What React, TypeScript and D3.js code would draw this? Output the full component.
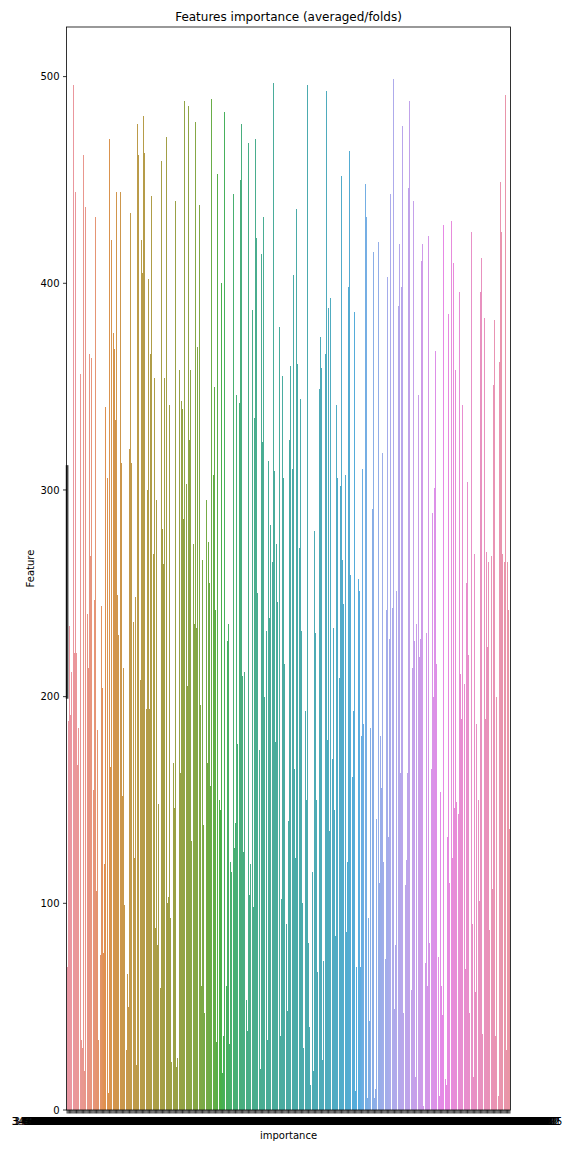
import * as d3 from "d3";

// mean "Feature" per importance category, read left to right off the plot
const featureMean = [
  69, 188, 234, 191, 212, 496, 221, 444, 221, 167, 185, 356, 34, 30, 462, 19, 437, 240, 214, 366,
  268, 364, 155, 247, 432, 106, 184, 34, 75, 244, 204, 76, 119, 340, 306, 8, 470, 166, 421, 376,
  368, 334, 444, 249, 230, 444, 313, 152, 214, 99, 29, 66, 50, 320, 434, 313, 236, 122, 248, 22,
  477, 462,
  208, 421, 405, 481, 463, 194, 300, 402, 194, 366, 442, 269, 354, 88, 295, 80, 148, 59, 459, 281,
  264, 354, 471, 100, 103, 341, 93, 23, 168, 146, 440, 21, 25, 358, 163, 343, 339, 286, 488, 303,
  205, 486, 324, 358, 130, 274, 235, 478, 233, 369, 438, 196, 60, 266, 138, 47, 295, 168, 275, 255,
  157, 489,
  307, 350, 242, 33, 453, 150, 145, 400, 18, 36, 483, 60, 227, 235, 32, 120, 115, 443, 127, 139,
  346, 177, 342, 450, 477, 210, 125, 212, 53, 38, 468, 104, 119, 387, 98, 335, 470, 422, 250, 174,
  20, 414, 323, 432, 200, 232, 34, 314, 238, 283, 265, 497, 309, 178, 274, 246, 379, 36, 102, 355,
  306, 216, 90, 48,
  140, 324, 360, 310, 404, 165, 122, 436, 361, 272, 344, 232, 100, 30, 193, 150, 496, 81, 40, 12,
  115, 19, 280, 231, 150, 67, 349, 374, 359, 24, 72, 366, 493, 179, 388, 135, 393, 170, 233, 145,
  84, 341, 306, 209, 302, 452, 266, 245, 307, 86, 120, 398, 464, 259, 161, 193, 386, 9, 69, 257,
  251, 69, 181,
  310, 187, 448, 432, 6, 93, 43, 185, 291, 415, 6, 10, 141, 420, 110, 181, 156, 318, 120, 73,
  242, 403, 132, 228, 443, 243, 499, 49, 80, 251, 389, 419, 163, 398, 476, 47, 109, 121, 163, 446,
  488, 58, 214, 440, 227, 16, 235, 346, 219, 228, 411, 419, 2, 71, 231, 60, 423, 81, 165, 289,
  200, 301, 367,
  216, 74, 7, 154, 60, 46, 428, 15, 12, 132, 385, 110, 430, 122, 410, 146, 358, 149, 143, 396,
  211, 189, 341, 206, 68, 255, 304, 220, 47, 425, 90, 16, 269, 57, 187, 150, 101, 396, 412, 37,
  383, 189, 270, 224, 265, 87, 268, 107, 351, 382, 36, 200, 7, 362, 449, 425, 269, 265, 491, 29,
  265, 242, 136,
];

// x categories (importance averaged over folds), ascending; labels overlap into a solid band
const importance = [
  3.4000000000000004, 3.6000000000000005, 3.8000000000000003, 4.000000000000001, 4.200000000000001, 4.400000000000001, 4.600000000000001, 4.800000000000001, 5.000000000000001, 5.200000000000001,
  5.400000000000001, 5.600000000000001, 5.800000000000001, 6.000000000000001, 6.200000000000001, 6.400000000000001, 6.600000000000001, 6.800000000000001, 7.000000000000001, 7.200000000000001,
  7.400000000000001, 7.600000000000001, 7.800000000000001, 8.000000000000002, 8.200000000000001, 8.400000000000002, 8.600000000000001, 8.800000000000002, 9.000000000000002, 9.200000000000001,
  9.400000000000002, 9.600000000000001, 9.800000000000002, 10.000000000000002, 10.200000000000001, 10.400000000000002, 10.600000000000001, 10.800000000000002, 11.000000000000002, 11.200000000000001,
  11.400000000000002, 11.600000000000001, 11.800000000000002, 12.000000000000002, 12.200000000000001, 12.400000000000002, 12.600000000000001, 12.800000000000002, 13.000000000000002, 13.200000000000001,
  13.400000000000002, 13.600000000000001, 13.800000000000002, 14.000000000000002, 14.200000000000001, 14.400000000000002, 14.600000000000001, 14.800000000000002, 15.000000000000002, 15.200000000000001,
  15.400000000000002, 15.600000000000001, 15.800000000000002, 16.000000000000004, 16.200000000000003, 16.400000000000002, 16.600000000000005, 16.800000000000004, 17.000000000000004, 17.200000000000003,
  17.400000000000002, 17.600000000000005, 17.800000000000004, 18.000000000000004, 18.200000000000003, 18.400000000000002, 18.600000000000005, 18.800000000000004, 19.000000000000004, 19.200000000000003,
  19.400000000000002, 19.600000000000005, 19.800000000000004, 20.000000000000004, 20.200000000000003, 20.400000000000002, 20.600000000000005, 20.800000000000004, 21.000000000000004, 21.200000000000003,
  21.400000000000002, 21.600000000000005, 21.800000000000004, 22.000000000000004, 22.200000000000003, 22.400000000000002, 22.600000000000005, 22.800000000000004, 23.000000000000004, 23.200000000000003,
  23.400000000000002, 23.600000000000005, 23.800000000000004, 24.000000000000004, 24.200000000000003, 24.400000000000002, 24.600000000000005, 24.800000000000004, 25.000000000000004, 25.200000000000003,
  25.400000000000002, 25.600000000000005, 25.800000000000004, 26.000000000000004, 26.200000000000003, 26.400000000000002, 26.600000000000005, 26.800000000000004, 27.000000000000004, 27.200000000000003,
  27.400000000000002, 27.600000000000005, 27.800000000000004, 28.000000000000004, 28.200000000000003, 28.400000000000002, 28.600000000000005, 28.800000000000004, 29.000000000000004, 29.200000000000003,
  29.400000000000002, 29.600000000000005, 29.800000000000004, 30.000000000000004, 30.200000000000003, 30.400000000000002, 30.600000000000005, 30.800000000000004, 31.000000000000004, 31.200000000000003,
  31.400000000000002, 31.600000000000005, 31.800000000000004, 32.00000000000001, 32.20000000000001, 32.40000000000001, 32.60000000000001, 32.80000000000001, 33.00000000000001, 33.20000000000001,
  33.40000000000001, 33.60000000000001, 33.80000000000001, 34.00000000000001, 34.20000000000001, 34.40000000000001, 34.60000000000001, 34.80000000000001, 35.00000000000001, 35.20000000000001,
  35.40000000000001, 35.60000000000001, 35.80000000000001, 36.00000000000001, 36.20000000000001, 36.40000000000001, 36.60000000000001, 36.80000000000001, 37.00000000000001, 37.20000000000001,
  37.40000000000001, 37.60000000000001, 37.80000000000001, 38.00000000000001, 38.20000000000001, 38.40000000000001, 38.60000000000001, 38.80000000000001, 39.00000000000001, 39.20000000000001,
  39.40000000000001, 39.60000000000001, 39.80000000000001, 40.00000000000001, 40.40000000000001, 40.60000000000001, 41.00000000000001, 41.20000000000001, 41.40000000000001, 41.80000000000001,
  42.00000000000001, 42.40000000000001, 42.60000000000001, 42.80000000000001, 43.20000000000001, 43.40000000000001, 43.80000000000001, 44.00000000000001, 44.20000000000001, 44.60000000000001,
  44.80000000000001, 45.20000000000001, 45.40000000000001, 45.60000000000001, 46.00000000000001, 46.20000000000001, 46.60000000000001, 46.80000000000001, 47.00000000000001, 47.40000000000001,
  47.60000000000001, 48.00000000000001, 48.20000000000001, 48.40000000000001, 48.80000000000001, 49.00000000000001, 49.40000000000001, 49.60000000000001, 49.80000000000001, 50.20000000000001,
  50.40000000000001, 50.80000000000001, 51.00000000000001, 51.20000000000001, 51.60000000000001, 51.80000000000001, 52.20000000000001, 52.40000000000001, 52.60000000000001, 53.00000000000001,
  53.20000000000001, 53.60000000000001, 53.80000000000001, 54.00000000000001, 54.40000000000001, 54.60000000000001, 55.00000000000001, 55.20000000000001, 55.40000000000001, 55.80000000000001,
  56.00000000000001, 56.40000000000001, 56.60000000000001, 56.80000000000001, 57.20000000000001, 57.40000000000001, 57.80000000000001, 58.00000000000001, 58.20000000000001, 58.60000000000001,
  58.80000000000001, 59.20000000000001, 59.40000000000001, 59.60000000000001, 60.00000000000001, 60.20000000000001, 60.60000000000001, 60.80000000000001, 61.00000000000001, 61.40000000000001,
  61.60000000000001, 62.00000000000001, 62.20000000000001, 62.40000000000001, 62.80000000000001, 63.00000000000001, 63.40000000000001, 63.60000000000001, 63.80000000000001, 64.20000000000002,
  64.40000000000002, 64.80000000000001, 65.00000000000001, 65.20000000000002, 65.60000000000001, 65.80000000000001, 66.20000000000002, 66.40000000000002, 66.60000000000001, 67.00000000000001,
  67.20000000000002, 67.60000000000001, 67.80000000000001, 68.00000000000001, 68.40000000000002, 68.60000000000001, 69.00000000000001, 69.20000000000002, 69.40000000000002, 69.80000000000001,
  70.00000000000001, 70.40000000000002, 70.60000000000001, 70.80000000000001, 71.20000000000002, 71.40000000000002, 71.80000000000001, 72.00000000000001, 72.20000000000002, 72.60000000000001,
  72.80000000000001, 73.20000000000002, 73.40000000000002, 73.60000000000001, 74.00000000000001, 74.20000000000002, 74.60000000000001, 74.80000000000001, 75.00000000000001, 75.40000000000002,
  75.60000000000001, 76.00000000000001, 76.20000000000002, 76.40000000000002, 76.80000000000001, 77.00000000000001, 77.40000000000002, 77.60000000000001, 77.80000000000001, 78.20000000000002,
  78.40000000000002, 78.80000000000001, 79.00000000000001, 79.20000000000002, 79.60000000000001, 79.80000000000001, 80.20000000000002, 80.40000000000002, 80.60000000000001, 81.00000000000001,
  81.20000000000002, 81.60000000000001, 81.80000000000001, 82.00000000000001, 82.40000000000002, 82.60000000000001, 83.00000000000001, 83.20000000000002, 83.40000000000002, 83.80000000000001,
  84.00000000000001, 84.40000000000002, 84.60000000000001, 84.80000000000001, 85.20000000000002, 85.40000000000002, 85.80000000000001, 86.00000000000001, 86.20000000000002, 86.60000000000001,
  86.80000000000001, 87.20000000000002, 87.40000000000002, 87.60000000000001, 88.00000000000001, 88.20000000000002, 88.60000000000001, 88.80000000000001, 89.00000000000001, 89.40000000000002,
  89.60000000000001, 90.00000000000001, 90.20000000000002, 90.60000000000001, 91.00000000000001, 91.40000000000002, 91.80000000000001, 92.20000000000002, 92.60000000000001, 93.00000000000001,
  93.40000000000002, 93.80000000000001, 94.40000000000002, 94.80000000000001, 95.40000000000002, 95.80000000000001, 96.20000000000005,
];

// only the first category has several rows -> confidence interval drawn
const firstBarCi = [199, 312];
const yTicks = [0, 100, 200, 300, 400, 500];

const W = 576;
const H = 1152;
const plot = { left: 66.5, right: 510.5, top: 27, bottom: 1110 };
const FONT = "DejaVu Sans, sans-serif";

// seaborn husl palette (l=.7) + desaturate(.75)
const M = [
  [3.2406, -1.5372, -0.4986],
  [-0.9689, 1.8758, 0.0415],
  [0.0557, -0.204, 1.057],
];

function maxChroma(L: number, Hdeg: number) {
  const hrad = (Hdeg * Math.PI) / 180;
  const sinH = Math.sin(hrad), cosH = Math.cos(hrad);
  const sub1 = Math.pow(L + 16, 3) / 1560896.0;
  const sub2 = sub1 > 0.008856 ? sub1 : L / 903.3;
  let result = Infinity;
  for (const [m1, m2, m3] of M) {
    const top = (0.99915 * m1 + 1.05122 * m2 + 1.1446 * m3) * sub2;
    const rbottom = 0.8633 * m3 - 0.17266 * m2;
    const lbottom = 0.12949 * m3 - 0.38848 * m1;
    const bottom = (rbottom * sinH + lbottom * cosH) * sub2;
    for (const t of [0, 1]) {
      const C = (L * (top - 1.05122 * t)) / (bottom + 0.17266 * sinH * t);
      if (C > 0 && C < result) result = C;
    }
  }
  return result;
}

function huslToRgb(h: number, s: number, l: number) {
  const C = (maxChroma(l, h) / 100) * s;
  const hrad = (h * Math.PI) / 180;
  const U = Math.cos(hrad) * C, V = Math.sin(hrad) * C;
  const t = (l + 16) / 116;
  const Y = t ** 3 > 0.008856 ? t ** 3 : (116 * t - 16) / 903.3;
  const varU = U / (13 * l) + 0.19784;
  const varV = V / (13 * l) + 0.46834;
  const X = -(9 * Y * varU) / ((varU - 4) * varV - varU * varV);
  const Z = (9 * Y - 15 * varV * Y - varV * X) / (3 * varV);
  return M.map(r => {
    const c = r[0] * X + r[1] * Y + r[2] * Z;
    const g = c <= 0.0031308 ? 12.92 * c : 1.055 * Math.pow(c, 1 / 2.4) - 0.055;
    return Math.min(1, Math.max(0, g));
  });
}

function huslPalette(n: number) {
  return d3.range(n).map(i => {
    const hue = ((i / n + 0.01) % 1) * 359;
    const [r, g, b] = huslToRgb(hue, 0.9 * 99, 0.7 * 99);
    const c = d3.hsl(d3.rgb(r * 255, g * 255, b * 255));
    c.s *= 0.75;
    return c.formatHex();
  });
}

export default function App() {
  const idx = featureMean.map((_, i) => i);
  const x = d3.scaleBand<number>().domain(idx).range([plot.left, plot.right]).paddingInner(0.2).paddingOuter(0.1);
  const y = d3.scaleLinear().domain([0, 524]).range([plot.bottom, plot.top]);
  const colors = huslPalette(featureMean.length);
  const bw = x.bandwidth();
  const cx = (i: number) => (x(i) as number) + bw / 2;

  return (
    <div style={{ position: "absolute", left: 0, top: 0 }}>
      <svg width={W} height={H} style={{ display: "block", background: "#fff" }} fontFamily={FONT}>
        <g shapeRendering="crispEdges">
          {featureMean.map((v, i) => {
            const x0 = Math.round(x(i) as number);
            const w = Math.max(1, Math.round((x(i) as number) + bw) - x0);
            return <rect key={i} x={x0} y={y(v)} width={w} height={y(0) - y(v)} fill={colors[i]} />;
          })}
        </g>

        <line x1={cx(0)} x2={cx(0)} y1={y(firstBarCi[0])} y2={y(firstBarCi[1])} stroke="#424242" strokeWidth={2.7} />

        {/* x ticks + labels */}
        <g>
          {importance.map((v, i) => (
            <line key={i} x1={cx(i)} x2={cx(i)} y1={plot.bottom} y2={plot.bottom + 3.5} stroke="#000" strokeWidth={0.8} />
          ))}
          {importance.map((v, i) => (
            <text key={i} x={cx(i)} y={1124.6} textAnchor="middle" fontSize={10} fill="#000">{String(v)}</text>
          ))}
        </g>

        {/* y ticks */}
        <g>
          {yTicks.map(t => (
            <g key={t}>
              <line x1={plot.left - 3.5} x2={plot.left} y1={y(t)} y2={y(t)} stroke="#000" strokeWidth={0.8} />
              <text x={plot.left - 7} y={y(t) + 3.6} textAnchor="end" fontSize={10} fill="#000">{t}</text>
            </g>
          ))}
        </g>

        <rect x={plot.left} y={plot.top} width={plot.right - plot.left} height={plot.bottom - plot.top}
          fill="none" stroke="#000" strokeWidth={0.8} />

        <text x={(plot.left + plot.right) / 2} y={21} textAnchor="middle" fontSize={12} fill="#000">
          Features importance (averaged/folds)
        </text>
        <text x={(plot.left + plot.right) / 2} y={1138.6} textAnchor="middle" fontSize={10} fill="#000">importance</text>
        <text transform={`translate(33.5,${(plot.top + plot.bottom) / 2}) rotate(-90)`} textAnchor="middle" fontSize={10} fill="#000">
          Feature
        </text>
      </svg>
    </div>
  );
}
